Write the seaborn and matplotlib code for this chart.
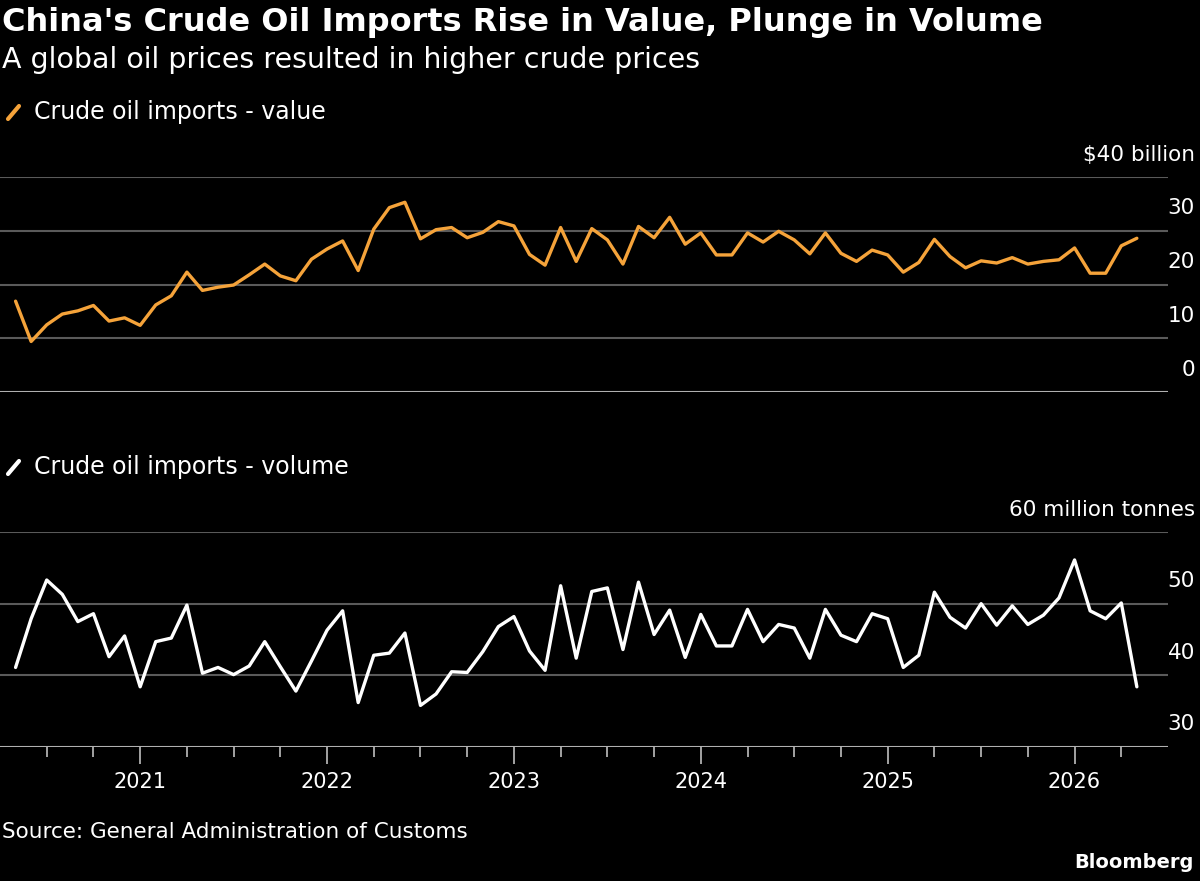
import numpy as np
import pandas as pd
import matplotlib
matplotlib.use('Agg')
import matplotlib.pyplot as plt
import matplotlib.transforms as mtransforms
from matplotlib.lines import Line2D
import seaborn as sns

# ── Data: monthly, May 2020 .. May 2026 ──────────────────────
start_month = 4   # months since Jan 2020 (May 2020)
value_bn = [16.9, 9.4, 12.5, 14.5, 15.1, 16.1, 13.2, 13.8, 12.4, 16.2, 17.9, 22.3,
            18.9, 19.5, 19.9, 21.8, 23.8, 21.6, 20.7, 24.7, 26.6, 28.1, 22.6, 30.3,
            34.3, 35.3, 28.5, 30.2, 30.6, 28.7, 29.7, 31.7, 30.9, 25.6, 23.6, 30.6,
            24.3, 30.4, 28.3, 23.8, 30.8, 28.7, 32.5, 27.5, 29.6, 25.5, 25.5, 29.6,
            27.9, 29.9, 28.3, 25.7, 29.6, 25.8, 24.3, 26.4, 25.5, 22.3, 24.1, 28.4,
            25.2, 23.1, 24.4, 24.0, 25.0, 23.8, 24.3, 24.6, 26.8, 22.1, 22.1, 27.2,
            28.6]
volume_mt = [41.1, 47.9, 53.3, 51.3, 47.5, 48.6, 42.6, 45.5, 38.4, 44.7, 45.2, 49.8,
             40.3, 41.1, 40.1, 41.3, 44.7, 41.2, 37.8, 42.0, 46.3, 49.0, 36.2, 42.8,
             43.1, 45.9, 35.8, 37.4, 40.5, 40.4, 43.3, 46.8, 48.2, 43.4, 40.7, 52.5,
             42.4, 51.7, 52.2, 43.6, 53.0, 45.7, 49.1, 42.5, 48.5, 44.1, 44.1, 49.2,
             44.7, 47.1, 46.6, 42.4, 49.2, 45.6, 44.7, 48.6, 47.9, 41.1, 42.8, 51.6,
             48.1, 46.6, 50.0, 47.0, 49.7, 47.1, 48.4, 50.8, 56.1, 49.0, 47.9, 50.1,
             38.4]
years = [2021, 2022, 2023, 2024, 2025, 2026]

df = pd.DataFrame({'month': np.arange(len(value_bn)) + start_month,
                   'value': value_bn, 'volume': volume_mt})

BG = '#000000'
ORANGE = '#F5A33A'
GRID = '#5a5a5a'
BASE = '#b0b0b0'

sns.set_style('dark')
plt.rcParams['font.family'] = ['DejaVu Sans']

fig = plt.figure(figsize=(12, 8.81), dpi=100, facecolor=BG)
ax1 = fig.add_axes([0, 1 - 392/881, 1168/1200, 215/881], facecolor=BG)
ax2 = fig.add_axes([0, 1 - 747/881, 1168/1200, 215/881], facecolor=BG)

sns.lineplot(data=df, x='month', y='value', ax=ax1, color=ORANGE, linewidth=2.4)
sns.lineplot(data=df, x='month', y='volume', ax=ax2, color='white', linewidth=2.4)

def style(ax, ylim, ticks, top_label):
    ax.set_xlim(3, 78)
    ax.set_ylim(*ylim)
    ax.set_xlabel('')
    ax.set_ylabel('')
    ax.set_yticks([])
    for s in ax.spines.values():
        s.set_visible(False)
    for t in ticks[1:]:
        ax.axhline(t, color=GRID, lw=1.5, zorder=0)
    ax.axhline(ticks[0], color=BASE, lw=1.5, zorder=0)
    tr = mtransforms.blended_transform_factory(fig.transFigure, ax.transData)
    off = mtransforms.offset_copy(tr, fig=fig, y=9, units='points')
    for t in ticks:
        lab = top_label if t == ticks[-1] else f'{t}'
        ax.text(1195/1200, t, lab, transform=off, ha='right', va='bottom',
                color='white', fontsize=15.5)

style(ax1, (0, 40), [0, 10, 20, 30, 40], '$40 billion')
ax1.set_xticks([])
style(ax2, (30, 60), [30, 40, 50, 60], '60 million tonnes')

year_pos = [(y - 2020) * 12 for y in years]
quarter_pos = [m for m in range(6, 78, 3) if m % 12 != 0]
ax2.set_xticks(year_pos)
ax2.set_xticklabels([str(y) for y in years], color='white', fontsize=15)
ax2.set_xticks(quarter_pos, minor=True)
ax2.tick_params(axis='x', which='major', length=12, width=1.3, color=BASE,
                direction='out', pad=6, bottom=True)
ax2.tick_params(axis='x', which='minor', length=7, width=1.3, color=BASE,
                direction='out', bottom=True)

# ── Titles, legends, source ──────────────────────────────────
fig.text(0.002, 1 - 22/881, "China's Crude Oil Imports Rise in Value, Plunge in Volume",
         color='white', fontsize=23, fontweight='bold', va='center')
fig.text(0.002, 1 - 60/881, 'A global oil prices resulted in higher crude prices',
         color='white', fontsize=20.5, va='center')

for y_px, col, lab in [(112, ORANGE, 'Crude oil imports - value'),
                       (467, 'white', 'Crude oil imports - volume')]:
    fig.add_artist(Line2D([8/1200, 19/1200], [1 - (y_px + 7)/881, 1 - (y_px - 6)/881],
                          color=col, lw=3, transform=fig.transFigure))
    fig.text(34/1200, 1 - y_px/881, lab, color='white', fontsize=17, va='center')

fig.text(0.002, 1 - 832/881, 'Source: General Administration of Customs',
         color='white', fontsize=15.5, va='center')
fig.text(0.995, 1 - 862/881, 'Bloomberg', color='white', fontsize=14,
         fontweight='bold', ha='right', va='center')

plt.savefig('out.png', dpi=100, facecolor=BG)
plt.close()
